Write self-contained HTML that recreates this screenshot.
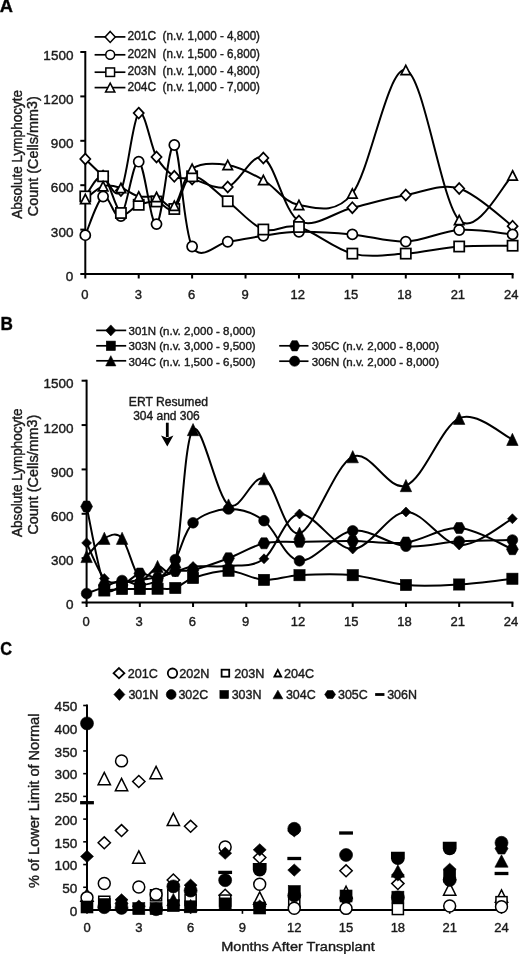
<!DOCTYPE html><html><head><meta charset="utf-8"><title>Lymphocyte counts</title><style>
html,body{margin:0;padding:0;background:#fff;}body{width:520px;height:954px;overflow:hidden;}
svg{display:block;font-family:"Liberation Sans", sans-serif;will-change:transform;}
text{stroke:#1a1a1a;stroke-width:0.4px;stroke-linejoin:round;}
</style></head><body>
<svg width="520" height="954" viewBox="0 0 520 954">
<rect width="520" height="954" fill="#fff"/>
<g fill="#000" font-weight="bold">
<text x="-0.3" y="12.4" font-size="17.8" textLength="13.2" lengthAdjust="spacingAndGlyphs" font-weight="bold" >A</text>
<text x="0.4" y="329.6" font-size="17.8" textLength="12.4" lengthAdjust="spacingAndGlyphs" font-weight="bold" >B</text>
<text x="0.2" y="654.6" font-size="17.8" textLength="11.8" lengthAdjust="spacingAndGlyphs" font-weight="bold" >C</text>
</g>
<g stroke="#000" stroke-width="2" fill="none" stroke-linecap="butt">
<path d="M85.3 51 V275"/>
<path d="M84.3 274 H513.6"/>
<path d="M80.3 274 H85.3"/>
<path d="M80.3 229.6 H85.3"/>
<path d="M80.3 185.2 H85.3"/>
<path d="M80.3 140.8 H85.3"/>
<path d="M80.3 96.4 H85.3"/>
<path d="M80.3 52 H85.3"/>
<path d="M85.3 274 V278.5"/>
<path d="M138.71 274 V278.5"/>
<path d="M192.12 274 V278.5"/>
<path d="M245.54 274 V278.5"/>
<path d="M298.95 274 V278.5"/>
<path d="M352.36 274 V278.5"/>
<path d="M405.78 274 V278.5"/>
<path d="M459.19 274 V278.5"/>
<path d="M512.6 274 V278.5"/>
</g>
<g fill="#1a1a1a" font-size="13.5">
<text x="73.4" y="280.8" font-size="13" text-anchor="end" textLength="7.51" lengthAdjust="spacingAndGlyphs" >0</text>
<text x="73.4" y="236.58" font-size="13" text-anchor="end" textLength="22.52" lengthAdjust="spacingAndGlyphs" >300</text>
<text x="73.4" y="192.36" font-size="13" text-anchor="end" textLength="22.52" lengthAdjust="spacingAndGlyphs" >600</text>
<text x="73.4" y="148.14" font-size="13" text-anchor="end" textLength="22.52" lengthAdjust="spacingAndGlyphs" >900</text>
<text x="73.4" y="103.92" font-size="13" text-anchor="end" textLength="30.02" lengthAdjust="spacingAndGlyphs" >1200</text>
<text x="73.4" y="59.7" font-size="13" text-anchor="end" textLength="30.02" lengthAdjust="spacingAndGlyphs" >1500</text>
<text x="84.9" y="299.2" font-size="13" text-anchor="middle" >0</text>
<text x="138.31" y="299.2" font-size="13" text-anchor="middle" >3</text>
<text x="191.72" y="299.2" font-size="13" text-anchor="middle" >6</text>
<text x="245.14" y="299.2" font-size="13" text-anchor="middle" >9</text>
<text x="297.65" y="299.2" font-size="13" text-anchor="middle" >12</text>
<text x="351.06" y="299.2" font-size="13" text-anchor="middle" >15</text>
<text x="404.48" y="299.2" font-size="13" text-anchor="middle" >18</text>
<text x="457.89" y="299.2" font-size="13" text-anchor="middle" >21</text>
<text x="511.3" y="299.2" font-size="13" text-anchor="middle" >24</text>
</g>
<g fill="#1a1a1a">
<text x="21.9" y="218.8" font-size="14" textLength="128.8" lengthAdjust="spacingAndGlyphs" transform="rotate(-90 21.9 218.8)" >Absolute Lymphocyte</text>
<text x="38.3" y="216.2" font-size="14" textLength="120" lengthAdjust="spacingAndGlyphs" transform="rotate(-90 38.3 216.2)" >Count (Cells/mm<tspan dy="-1.3">3</tspan><tspan dy="1.3">)</tspan></text>
</g>
<g fill="none" stroke="#000" stroke-width="2">
<path d="M85.3 159 C88.27 161.83 97.17 170.75 103.1 176 C109.04 181.25 114.97 200.98 120.91 190.5 C126.84 180.02 132.78 118.68 138.71 113.1 C144.65 107.52 150.58 146.47 156.52 157 C162.45 167.53 168.39 172.63 174.32 176.3 C180.26 179.97 183.22 177.22 192.12 179 C201.03 180.78 215.86 190.5 227.73 187 C239.6 183.5 251.47 152.33 263.34 158 C275.21 163.67 284.11 212.72 298.95 221 C313.79 229.28 334.56 212.03 352.36 207.7 C370.17 203.37 387.97 198.2 405.78 195 C423.58 191.8 441.38 183.3 459.19 188.5 C476.99 193.7 503.7 219.92 512.6 226.2"/>
<path d="M85.3 235.2 C88.27 228.75 97.17 199.7 103.1 196.5 C109.04 193.3 114.97 221.8 120.91 216 C126.84 210.2 132.78 160.35 138.71 161.7 C144.65 163.05 150.58 226.88 156.52 224.1 C162.45 221.32 168.39 141.27 174.32 145 C180.26 148.73 183.22 230.38 192.12 246.5 C201.03 262.62 215.86 243.53 227.73 241.75 C239.6 239.97 251.47 237.46 263.34 235.8 C275.21 234.14 284.11 232.03 298.95 231.8 C313.79 231.57 334.56 232.77 352.36 234.4 C370.17 236.03 387.97 242.33 405.78 241.6 C423.58 240.87 441.38 231.2 459.19 230 C476.99 228.8 503.7 233.67 512.6 234.4"/>
<path d="M85.3 196.4 C88.27 193.05 97.17 173.53 103.1 176.3 C109.04 179.07 114.97 208.25 120.91 213 C126.84 217.75 132.78 206.72 138.71 204.8 C144.65 202.88 150.58 200.8 156.52 201.5 C162.45 202.2 168.39 213.2 174.32 209 C180.26 204.8 183.22 177.59 192.12 176.3 C201.03 175.01 215.86 192.38 227.73 201.25 C239.6 210.12 251.47 225.21 263.34 229.5 C275.21 233.79 284.11 222.98 298.95 227 C313.79 231.02 334.56 249.17 352.36 253.6 C370.17 258.03 387.97 254.78 405.78 253.6 C423.58 252.42 441.38 247.82 459.19 246.5 C476.99 245.18 503.7 245.83 512.6 245.7"/>
<path d="M85.3 199 C88.27 196.87 97.17 188.05 103.1 186.2 C109.04 184.35 114.97 186.2 120.91 187.9 C126.84 189.6 132.78 194.9 138.71 196.4 C144.65 197.9 150.58 195.35 156.52 196.9 C162.45 198.45 168.39 210.38 174.32 205.7 C180.26 201.02 183.22 175.58 192.12 168.8 C201.03 162.02 215.86 163.13 227.73 165 C239.6 166.87 251.47 173.33 263.34 180 C275.21 186.67 284.11 202.75 298.95 205 C313.79 207.25 334.56 216 352.36 193.5 C370.17 171 387.97 65.58 405.78 70 C423.58 74.42 441.38 202.43 459.19 220 C476.99 237.57 503.7 182.83 512.6 175.4"/>
</g>
<polygon points="85.3,153.55 90.35,159 85.3,164.45 80.25,159" fill="#fff" stroke="#000" stroke-width="1.7"/>
<polygon points="103.1,170.55 108.15,176 103.1,181.45 98.05,176" fill="#fff" stroke="#000" stroke-width="1.7"/>
<polygon points="120.91,185.05 125.96,190.5 120.91,195.95 115.86,190.5" fill="#fff" stroke="#000" stroke-width="1.7"/>
<polygon points="138.71,107.65 143.76,113.1 138.71,118.55 133.66,113.1" fill="#fff" stroke="#000" stroke-width="1.7"/>
<polygon points="156.52,151.55 161.57,157 156.52,162.45 151.47,157" fill="#fff" stroke="#000" stroke-width="1.7"/>
<polygon points="174.32,170.85 179.37,176.3 174.32,181.75 169.27,176.3" fill="#fff" stroke="#000" stroke-width="1.7"/>
<polygon points="192.12,173.55 197.18,179 192.12,184.45 187.07,179" fill="#fff" stroke="#000" stroke-width="1.7"/>
<polygon points="227.73,181.55 232.78,187 227.73,192.45 222.68,187" fill="#fff" stroke="#000" stroke-width="1.7"/>
<polygon points="263.34,152.55 268.39,158 263.34,163.45 258.29,158" fill="#fff" stroke="#000" stroke-width="1.7"/>
<polygon points="298.95,215.55 304,221 298.95,226.45 293.9,221" fill="#fff" stroke="#000" stroke-width="1.7"/>
<polygon points="352.36,202.25 357.41,207.7 352.36,213.15 347.31,207.7" fill="#fff" stroke="#000" stroke-width="1.7"/>
<polygon points="405.78,189.55 410.83,195 405.78,200.45 400.73,195" fill="#fff" stroke="#000" stroke-width="1.7"/>
<polygon points="459.19,183.05 464.24,188.5 459.19,193.95 454.14,188.5" fill="#fff" stroke="#000" stroke-width="1.7"/>
<polygon points="512.6,220.75 517.65,226.2 512.6,231.65 507.55,226.2" fill="#fff" stroke="#000" stroke-width="1.7"/>
<ellipse cx="85.3" cy="235.2" rx="5.05" ry="5.05" fill="#fff" stroke="#000" stroke-width="1.7"/>
<ellipse cx="103.1" cy="196.5" rx="5.05" ry="5.05" fill="#fff" stroke="#000" stroke-width="1.7"/>
<ellipse cx="120.91" cy="216" rx="5.05" ry="5.05" fill="#fff" stroke="#000" stroke-width="1.7"/>
<ellipse cx="138.71" cy="161.7" rx="5.05" ry="5.05" fill="#fff" stroke="#000" stroke-width="1.7"/>
<ellipse cx="156.52" cy="224.1" rx="5.05" ry="5.05" fill="#fff" stroke="#000" stroke-width="1.7"/>
<ellipse cx="174.32" cy="145" rx="5.05" ry="5.05" fill="#fff" stroke="#000" stroke-width="1.7"/>
<ellipse cx="192.12" cy="246.5" rx="5.05" ry="5.05" fill="#fff" stroke="#000" stroke-width="1.7"/>
<ellipse cx="227.73" cy="241.75" rx="5.05" ry="5.05" fill="#fff" stroke="#000" stroke-width="1.7"/>
<ellipse cx="263.34" cy="235.8" rx="5.05" ry="5.05" fill="#fff" stroke="#000" stroke-width="1.7"/>
<ellipse cx="298.95" cy="231.8" rx="5.05" ry="5.05" fill="#fff" stroke="#000" stroke-width="1.7"/>
<ellipse cx="352.36" cy="234.4" rx="5.05" ry="5.05" fill="#fff" stroke="#000" stroke-width="1.7"/>
<ellipse cx="405.78" cy="241.6" rx="5.05" ry="5.05" fill="#fff" stroke="#000" stroke-width="1.7"/>
<ellipse cx="459.19" cy="230" rx="5.05" ry="5.05" fill="#fff" stroke="#000" stroke-width="1.7"/>
<ellipse cx="512.6" cy="234.4" rx="5.05" ry="5.05" fill="#fff" stroke="#000" stroke-width="1.7"/>
<rect x="80.2" y="191.3" width="10.2" height="10.2" fill="#fff" stroke="#000" stroke-width="1.7"/>
<rect x="98" y="171.2" width="10.2" height="10.2" fill="#fff" stroke="#000" stroke-width="1.7"/>
<rect x="115.81" y="207.9" width="10.2" height="10.2" fill="#fff" stroke="#000" stroke-width="1.7"/>
<rect x="133.61" y="199.7" width="10.2" height="10.2" fill="#fff" stroke="#000" stroke-width="1.7"/>
<rect x="151.42" y="196.4" width="10.2" height="10.2" fill="#fff" stroke="#000" stroke-width="1.7"/>
<rect x="169.22" y="203.9" width="10.2" height="10.2" fill="#fff" stroke="#000" stroke-width="1.7"/>
<rect x="187.03" y="171.2" width="10.2" height="10.2" fill="#fff" stroke="#000" stroke-width="1.7"/>
<rect x="222.63" y="196.15" width="10.2" height="10.2" fill="#fff" stroke="#000" stroke-width="1.7"/>
<rect x="258.24" y="224.4" width="10.2" height="10.2" fill="#fff" stroke="#000" stroke-width="1.7"/>
<rect x="293.85" y="221.9" width="10.2" height="10.2" fill="#fff" stroke="#000" stroke-width="1.7"/>
<rect x="347.26" y="248.5" width="10.2" height="10.2" fill="#fff" stroke="#000" stroke-width="1.7"/>
<rect x="400.68" y="248.5" width="10.2" height="10.2" fill="#fff" stroke="#000" stroke-width="1.7"/>
<rect x="454.09" y="241.4" width="10.2" height="10.2" fill="#fff" stroke="#000" stroke-width="1.7"/>
<rect x="507.5" y="240.6" width="10.2" height="10.2" fill="#fff" stroke="#000" stroke-width="1.7"/>
<polygon points="85.3,194.35 90.05,203.65 80.55,203.65" fill="#fff" stroke="#000" stroke-width="1.7" stroke-linejoin="miter"/>
<polygon points="103.1,181.55 107.85,190.85 98.35,190.85" fill="#fff" stroke="#000" stroke-width="1.7" stroke-linejoin="miter"/>
<polygon points="120.91,183.25 125.66,192.55 116.16,192.55" fill="#fff" stroke="#000" stroke-width="1.7" stroke-linejoin="miter"/>
<polygon points="138.71,191.75 143.46,201.05 133.96,201.05" fill="#fff" stroke="#000" stroke-width="1.7" stroke-linejoin="miter"/>
<polygon points="156.52,192.25 161.27,201.55 151.77,201.55" fill="#fff" stroke="#000" stroke-width="1.7" stroke-linejoin="miter"/>
<polygon points="174.32,201.05 179.07,210.35 169.57,210.35" fill="#fff" stroke="#000" stroke-width="1.7" stroke-linejoin="miter"/>
<polygon points="192.12,164.15 196.88,173.45 187.38,173.45" fill="#fff" stroke="#000" stroke-width="1.7" stroke-linejoin="miter"/>
<polygon points="227.73,160.35 232.48,169.65 222.98,169.65" fill="#fff" stroke="#000" stroke-width="1.7" stroke-linejoin="miter"/>
<polygon points="263.34,175.35 268.09,184.65 258.59,184.65" fill="#fff" stroke="#000" stroke-width="1.7" stroke-linejoin="miter"/>
<polygon points="298.95,200.35 303.7,209.65 294.2,209.65" fill="#fff" stroke="#000" stroke-width="1.7" stroke-linejoin="miter"/>
<polygon points="352.36,188.85 357.11,198.15 347.61,198.15" fill="#fff" stroke="#000" stroke-width="1.7" stroke-linejoin="miter"/>
<polygon points="405.78,65.35 410.53,74.65 401.03,74.65" fill="#fff" stroke="#000" stroke-width="1.7" stroke-linejoin="miter"/>
<polygon points="459.19,215.35 463.94,224.65 454.44,224.65" fill="#fff" stroke="#000" stroke-width="1.7" stroke-linejoin="miter"/>
<polygon points="512.6,170.75 517.35,180.05 507.85,180.05" fill="#fff" stroke="#000" stroke-width="1.7" stroke-linejoin="miter"/>
<path d="M94.6 36.9 H125.4" stroke="#000" stroke-width="1.7"/>
<polygon points="110.2,31.4 115.3,36.9 110.2,42.4 105.1,36.9" fill="#fff" stroke="#000" stroke-width="1.5"/>
<g fill="#1a1a1a">
<text x="127.5" y="40.4" font-size="12" textLength="28.6" lengthAdjust="spacingAndGlyphs" >201C</text>
<text x="162.6" y="40.4" font-size="12" textLength="97.4" lengthAdjust="spacingAndGlyphs" >(n.v. 1,000 - 4,800)</text>
</g>
<path d="M94.6 54.8 H125.4" stroke="#000" stroke-width="1.7"/>
<ellipse cx="110.2" cy="54.8" rx="4.45" ry="4.55" fill="#fff" stroke="#000" stroke-width="1.5"/>
<g fill="#1a1a1a">
<text x="127.5" y="58" font-size="12" textLength="28.6" lengthAdjust="spacingAndGlyphs" >202N</text>
<text x="162.6" y="58" font-size="12" textLength="97.4" lengthAdjust="spacingAndGlyphs" >(n.v. 1,500 - 6,800)</text>
</g>
<path d="M94.6 72.2 H125.4" stroke="#000" stroke-width="1.7"/>
<rect x="105.85" y="67.95" width="8.7" height="8.5" fill="#fff" stroke="#000" stroke-width="1.5"/>
<g fill="#1a1a1a">
<text x="127.5" y="75" font-size="12" textLength="28.6" lengthAdjust="spacingAndGlyphs" >203N</text>
<text x="162.6" y="75" font-size="12" textLength="97.4" lengthAdjust="spacingAndGlyphs" >(n.v. 1,000 - 4,800)</text>
</g>
<path d="M94.6 87.6 H125.4" stroke="#000" stroke-width="1.7"/>
<polygon points="110.2,83.15 114.85,92.05 105.55,92.05" fill="#fff" stroke="#000" stroke-width="1.5" stroke-linejoin="miter"/>
<g fill="#1a1a1a">
<text x="127.5" y="91.2" font-size="12" textLength="28.6" lengthAdjust="spacingAndGlyphs" >204C</text>
<text x="162.6" y="91.2" font-size="12" textLength="97.4" lengthAdjust="spacingAndGlyphs" >(n.v. 1,000 - 7,000)</text>
</g>
<g stroke="#000" stroke-width="2" fill="none" stroke-linecap="butt">
<path d="M86.6 379.7 V603.5"/>
<path d="M85.6 602.5 H513.4"/>
<path d="M81.6 602.5 H86.6"/>
<path d="M81.6 558.14 H86.6"/>
<path d="M81.6 513.78 H86.6"/>
<path d="M81.6 469.42 H86.6"/>
<path d="M81.6 425.06 H86.6"/>
<path d="M81.6 380.7 H86.6"/>
<path d="M86.6 602.5 V607"/>
<path d="M139.82 602.5 V607"/>
<path d="M193.05 602.5 V607"/>
<path d="M246.27 602.5 V607"/>
<path d="M299.5 602.5 V607"/>
<path d="M352.72 602.5 V607"/>
<path d="M405.95 602.5 V607"/>
<path d="M459.17 602.5 V607"/>
<path d="M512.4 602.5 V607"/>
</g>
<g fill="#1a1a1a">
<text x="73.6" y="609.3" font-size="13" text-anchor="end" textLength="7.51" lengthAdjust="spacingAndGlyphs" >0</text>
<text x="73.6" y="565.12" font-size="13" text-anchor="end" textLength="22.52" lengthAdjust="spacingAndGlyphs" >300</text>
<text x="73.6" y="520.94" font-size="13" text-anchor="end" textLength="22.52" lengthAdjust="spacingAndGlyphs" >600</text>
<text x="73.6" y="476.76" font-size="13" text-anchor="end" textLength="22.52" lengthAdjust="spacingAndGlyphs" >900</text>
<text x="73.6" y="432.58" font-size="13" text-anchor="end" textLength="30.02" lengthAdjust="spacingAndGlyphs" >1200</text>
<text x="73.6" y="388.4" font-size="13" text-anchor="end" textLength="30.02" lengthAdjust="spacingAndGlyphs" >1500</text>
<text x="86" y="625.9" font-size="13" text-anchor="middle" >0</text>
<text x="139.22" y="625.9" font-size="13" text-anchor="middle" >3</text>
<text x="192.45" y="625.9" font-size="13" text-anchor="middle" >6</text>
<text x="245.67" y="625.9" font-size="13" text-anchor="middle" >9</text>
<text x="298.1" y="625.9" font-size="13" text-anchor="middle" >12</text>
<text x="351.32" y="625.9" font-size="13" text-anchor="middle" >15</text>
<text x="404.55" y="625.9" font-size="13" text-anchor="middle" >18</text>
<text x="457.77" y="625.9" font-size="13" text-anchor="middle" >21</text>
<text x="511" y="625.9" font-size="13" text-anchor="middle" >24</text>
<text x="21.8" y="536.9" font-size="14" textLength="128.4" lengthAdjust="spacingAndGlyphs" transform="rotate(-90 21.8 536.9)" >Absolute Lymphocyte</text>
<text x="38.3" y="534.6" font-size="14" textLength="120" lengthAdjust="spacingAndGlyphs" transform="rotate(-90 38.3 534.6)" >Count (Cells/mm<tspan dy="-1.3">3</tspan><tspan dy="1.3">)</tspan></text>
</g>
<g fill="none" stroke="#000" stroke-width="2">
<path d="M86.6 542.9 C89.56 548.83 98.43 571.98 104.34 578.5 C110.26 585.02 116.17 581.75 122.08 582 C128 582.25 133.91 580.83 139.82 580 C145.74 579.17 151.65 578.33 157.57 577 C163.48 575.67 169.39 573.75 175.31 572 C181.22 570.25 184.18 567.5 193.05 566.5 C201.92 565.5 216.71 567.28 228.53 566 C240.36 564.72 252.19 567.47 264.02 558.8 C275.84 550.13 284.72 515.63 299.5 514 C314.28 512.37 334.98 549.33 352.72 549 C370.47 548.67 388.21 512.67 405.95 512 C423.69 511.33 441.43 543.88 459.17 545 C476.92 546.12 503.53 523.12 512.4 518.75"/>
<path d="M104.34 590.5 C107.3 590.25 116.17 589.25 122.08 589 C128 588.75 133.91 589.05 139.82 589 C145.74 588.95 151.65 588.87 157.57 588.7 C163.48 588.53 169.39 589.78 175.31 588 C181.22 586.22 184.18 580.88 193.05 578 C201.92 575.12 216.71 570.43 228.53 570.75 C240.36 571.07 252.19 579.16 264.02 579.9 C275.84 580.64 284.72 575.98 299.5 575.2 C314.28 574.42 334.98 573.57 352.72 575.2 C370.47 576.83 388.21 583.45 405.95 585 C423.69 586.55 441.43 585.54 459.17 584.5 C476.92 583.46 503.53 579.71 512.4 578.75"/>
<path d="M86.6 556.5 C89.56 553.47 98.43 541.33 104.34 538.3 C110.26 535.27 116.17 531.68 122.08 538.3 C128 544.92 133.91 573.3 139.82 578 C145.74 582.7 151.65 569.17 157.57 566.5 C163.48 563.83 169.39 584.82 175.31 562 C181.22 539.18 184.18 439.1 193.05 429.6 C201.92 420.1 216.71 496.82 228.53 505 C240.36 513.18 252.19 473.98 264.02 478.7 C275.84 483.42 284.72 536.97 299.5 533.3 C314.28 529.63 334.98 464.65 352.72 456.7 C370.47 448.75 388.21 492 405.95 485.6 C423.69 479.2 441.43 426 459.17 418.3 C476.92 410.6 503.53 435.88 512.4 439.4"/>
<path d="M86.6 506.5 C89.56 519.58 98.43 571.92 104.34 585 C110.26 598.08 116.17 586.92 122.08 585 C128 583.08 133.91 574.67 139.82 573.5 C145.74 572.33 151.65 578.42 157.57 578 C163.48 577.58 169.39 572.33 175.31 571 C181.22 569.67 184.18 572.12 193.05 570 C201.92 567.88 216.71 562.7 228.53 558.25 C240.36 553.8 252.19 546.02 264.02 543.3 C275.84 540.57 284.72 542.28 299.5 541.9 C314.28 541.52 334.98 540.9 352.72 541 C370.47 541.1 388.21 544.67 405.95 542.5 C423.69 540.33 441.43 526.88 459.17 528 C476.92 529.12 503.53 545.71 512.4 549.25"/>
<path d="M86.6 593.5 C89.56 592.42 98.43 589.17 104.34 587 C110.26 584.83 116.17 580.83 122.08 580.5 C128 580.17 133.91 585.08 139.82 585 C145.74 584.92 151.65 584.23 157.57 580 C163.48 575.77 169.39 569.13 175.31 559.6 C181.22 550.07 184.18 531.23 193.05 522.8 C201.92 514.37 216.71 509.35 228.53 509 C240.36 508.65 252.19 512.07 264.02 520.7 C275.84 529.33 284.72 559.12 299.5 560.8 C314.28 562.48 334.98 533.22 352.72 530.8 C370.47 528.38 388.21 544.51 405.95 546.25 C423.69 547.99 441.43 542.29 459.17 541.25 C476.92 540.21 503.53 540.21 512.4 540"/>
</g>
<polygon points="86.6,537.9 91.5,542.9 86.6,547.9 81.7,542.9" fill="#000" stroke="#000" stroke-width="0.6"/>
<polygon points="104.34,573.5 109.24,578.5 104.34,583.5 99.44,578.5" fill="#000" stroke="#000" stroke-width="0.6"/>
<polygon points="122.08,577 126.98,582 122.08,587 117.18,582" fill="#000" stroke="#000" stroke-width="0.6"/>
<polygon points="139.82,575 144.72,580 139.82,585 134.92,580" fill="#000" stroke="#000" stroke-width="0.6"/>
<polygon points="157.57,572 162.47,577 157.57,582 152.67,577" fill="#000" stroke="#000" stroke-width="0.6"/>
<polygon points="175.31,567 180.21,572 175.31,577 170.41,572" fill="#000" stroke="#000" stroke-width="0.6"/>
<polygon points="193.05,561.5 197.95,566.5 193.05,571.5 188.15,566.5" fill="#000" stroke="#000" stroke-width="0.6"/>
<polygon points="228.53,561 233.43,566 228.53,571 223.63,566" fill="#000" stroke="#000" stroke-width="0.6"/>
<polygon points="264.02,553.8 268.92,558.8 264.02,563.8 259.12,558.8" fill="#000" stroke="#000" stroke-width="0.6"/>
<polygon points="299.5,509 304.4,514 299.5,519 294.6,514" fill="#000" stroke="#000" stroke-width="0.6"/>
<polygon points="352.72,544 357.62,549 352.72,554 347.82,549" fill="#000" stroke="#000" stroke-width="0.6"/>
<polygon points="405.95,507 410.85,512 405.95,517 401.05,512" fill="#000" stroke="#000" stroke-width="0.6"/>
<polygon points="459.17,540 464.07,545 459.17,550 454.27,545" fill="#000" stroke="#000" stroke-width="0.6"/>
<polygon points="512.4,513.75 517.3,518.75 512.4,523.75 507.5,518.75" fill="#000" stroke="#000" stroke-width="0.6"/>
<rect x="98.74" y="584.9" width="11.2" height="11.2" fill="#000" stroke="#000" stroke-width="0.6"/>
<rect x="116.48" y="583.4" width="11.2" height="11.2" fill="#000" stroke="#000" stroke-width="0.6"/>
<rect x="134.22" y="583.4" width="11.2" height="11.2" fill="#000" stroke="#000" stroke-width="0.6"/>
<rect x="151.97" y="583.1" width="11.2" height="11.2" fill="#000" stroke="#000" stroke-width="0.6"/>
<rect x="169.71" y="582.4" width="11.2" height="11.2" fill="#000" stroke="#000" stroke-width="0.6"/>
<rect x="187.45" y="572.4" width="11.2" height="11.2" fill="#000" stroke="#000" stroke-width="0.6"/>
<rect x="222.93" y="565.15" width="11.2" height="11.2" fill="#000" stroke="#000" stroke-width="0.6"/>
<rect x="258.42" y="574.3" width="11.2" height="11.2" fill="#000" stroke="#000" stroke-width="0.6"/>
<rect x="293.9" y="569.6" width="11.2" height="11.2" fill="#000" stroke="#000" stroke-width="0.6"/>
<rect x="347.12" y="569.6" width="11.2" height="11.2" fill="#000" stroke="#000" stroke-width="0.6"/>
<rect x="400.35" y="579.4" width="11.2" height="11.2" fill="#000" stroke="#000" stroke-width="0.6"/>
<rect x="453.57" y="578.9" width="11.2" height="11.2" fill="#000" stroke="#000" stroke-width="0.6"/>
<rect x="506.8" y="573.15" width="11.2" height="11.2" fill="#000" stroke="#000" stroke-width="0.6"/>
<polygon points="86.6,550.4 92.3,562.6 80.9,562.6" fill="#000" stroke="#000" stroke-width="0.6" stroke-linejoin="miter"/>
<polygon points="104.34,532.2 110.04,544.4 98.64,544.4" fill="#000" stroke="#000" stroke-width="0.6" stroke-linejoin="miter"/>
<polygon points="122.08,532.2 127.78,544.4 116.38,544.4" fill="#000" stroke="#000" stroke-width="0.6" stroke-linejoin="miter"/>
<polygon points="139.82,571.9 145.52,584.1 134.12,584.1" fill="#000" stroke="#000" stroke-width="0.6" stroke-linejoin="miter"/>
<polygon points="157.57,560.4 163.27,572.6 151.87,572.6" fill="#000" stroke="#000" stroke-width="0.6" stroke-linejoin="miter"/>
<polygon points="175.31,555.9 181.01,568.1 169.61,568.1" fill="#000" stroke="#000" stroke-width="0.6" stroke-linejoin="miter"/>
<polygon points="193.05,423.5 198.75,435.7 187.35,435.7" fill="#000" stroke="#000" stroke-width="0.6" stroke-linejoin="miter"/>
<polygon points="228.53,498.9 234.23,511.1 222.83,511.1" fill="#000" stroke="#000" stroke-width="0.6" stroke-linejoin="miter"/>
<polygon points="264.02,472.6 269.72,484.8 258.32,484.8" fill="#000" stroke="#000" stroke-width="0.6" stroke-linejoin="miter"/>
<polygon points="299.5,527.2 305.2,539.4 293.8,539.4" fill="#000" stroke="#000" stroke-width="0.6" stroke-linejoin="miter"/>
<polygon points="352.72,450.6 358.42,462.8 347.02,462.8" fill="#000" stroke="#000" stroke-width="0.6" stroke-linejoin="miter"/>
<polygon points="405.95,479.5 411.65,491.7 400.25,491.7" fill="#000" stroke="#000" stroke-width="0.6" stroke-linejoin="miter"/>
<polygon points="459.17,412.2 464.87,424.4 453.47,424.4" fill="#000" stroke="#000" stroke-width="0.6" stroke-linejoin="miter"/>
<polygon points="512.4,433.3 518.1,445.5 506.7,445.5" fill="#000" stroke="#000" stroke-width="0.6" stroke-linejoin="miter"/>
<polygon points="80.7,506.5 83.65,501.05 89.55,501.05 92.5,506.5 89.55,511.95 83.65,511.95" fill="#000" stroke="#000" stroke-width="0.6"/>
<polygon points="98.44,585 101.39,579.55 107.29,579.55 110.24,585 107.29,590.45 101.39,590.45" fill="#000" stroke="#000" stroke-width="0.6"/>
<polygon points="116.18,585 119.13,579.55 125.03,579.55 127.98,585 125.03,590.45 119.13,590.45" fill="#000" stroke="#000" stroke-width="0.6"/>
<polygon points="133.92,573.5 136.88,568.05 142.77,568.05 145.72,573.5 142.77,578.95 136.88,578.95" fill="#000" stroke="#000" stroke-width="0.6"/>
<polygon points="151.67,578 154.62,572.55 160.52,572.55 163.47,578 160.52,583.45 154.62,583.45" fill="#000" stroke="#000" stroke-width="0.6"/>
<polygon points="169.41,571 172.36,565.55 178.26,565.55 181.21,571 178.26,576.45 172.36,576.45" fill="#000" stroke="#000" stroke-width="0.6"/>
<polygon points="187.15,570 190.1,564.55 196,564.55 198.95,570 196,575.45 190.1,575.45" fill="#000" stroke="#000" stroke-width="0.6"/>
<polygon points="222.63,558.25 225.58,552.8 231.48,552.8 234.43,558.25 231.48,563.7 225.58,563.7" fill="#000" stroke="#000" stroke-width="0.6"/>
<polygon points="258.12,543.3 261.07,537.85 266.97,537.85 269.92,543.3 266.97,548.75 261.07,548.75" fill="#000" stroke="#000" stroke-width="0.6"/>
<polygon points="293.6,541.9 296.55,536.45 302.45,536.45 305.4,541.9 302.45,547.35 296.55,547.35" fill="#000" stroke="#000" stroke-width="0.6"/>
<polygon points="346.82,541 349.77,535.55 355.67,535.55 358.62,541 355.67,546.45 349.77,546.45" fill="#000" stroke="#000" stroke-width="0.6"/>
<polygon points="400.05,542.5 403,537.05 408.9,537.05 411.85,542.5 408.9,547.95 403,547.95" fill="#000" stroke="#000" stroke-width="0.6"/>
<polygon points="453.27,528 456.22,522.55 462.12,522.55 465.07,528 462.12,533.45 456.22,533.45" fill="#000" stroke="#000" stroke-width="0.6"/>
<polygon points="506.5,549.25 509.45,543.8 515.35,543.8 518.3,549.25 515.35,554.7 509.45,554.7" fill="#000" stroke="#000" stroke-width="0.6"/>
<ellipse cx="86.6" cy="593.5" rx="5.35" ry="5.35" fill="#000" stroke="#000" stroke-width="0.6"/>
<ellipse cx="104.34" cy="587" rx="5.35" ry="5.35" fill="#000" stroke="#000" stroke-width="0.6"/>
<ellipse cx="122.08" cy="580.5" rx="5.35" ry="5.35" fill="#000" stroke="#000" stroke-width="0.6"/>
<ellipse cx="139.82" cy="585" rx="5.35" ry="5.35" fill="#000" stroke="#000" stroke-width="0.6"/>
<ellipse cx="157.57" cy="580" rx="5.35" ry="5.35" fill="#000" stroke="#000" stroke-width="0.6"/>
<ellipse cx="175.31" cy="559.6" rx="5.35" ry="5.35" fill="#000" stroke="#000" stroke-width="0.6"/>
<ellipse cx="193.05" cy="522.8" rx="5.35" ry="5.35" fill="#000" stroke="#000" stroke-width="0.6"/>
<ellipse cx="228.53" cy="509" rx="5.35" ry="5.35" fill="#000" stroke="#000" stroke-width="0.6"/>
<ellipse cx="264.02" cy="520.7" rx="5.35" ry="5.35" fill="#000" stroke="#000" stroke-width="0.6"/>
<ellipse cx="299.5" cy="560.8" rx="5.35" ry="5.35" fill="#000" stroke="#000" stroke-width="0.6"/>
<ellipse cx="352.72" cy="530.8" rx="5.35" ry="5.35" fill="#000" stroke="#000" stroke-width="0.6"/>
<ellipse cx="405.95" cy="546.25" rx="5.35" ry="5.35" fill="#000" stroke="#000" stroke-width="0.6"/>
<ellipse cx="459.17" cy="541.25" rx="5.35" ry="5.35" fill="#000" stroke="#000" stroke-width="0.6"/>
<ellipse cx="512.4" cy="540" rx="5.35" ry="5.35" fill="#000" stroke="#000" stroke-width="0.6"/>
<path d="M96.2 330.4 H126.2" stroke="#000" stroke-width="1.7"/>
<polygon points="110.8,324.9 115.9,330.4 110.8,335.9 105.7,330.4" fill="#000" stroke="#000" stroke-width="0.6"/>
<g fill="#1a1a1a">
<text x="128.5" y="334.6" font-size="11.7" textLength="127.2" lengthAdjust="spacingAndGlyphs" >301N&#160;(n.v. 2,000 - 8,000)</text>
</g>
<path d="M96.2 345.8 H126.2" stroke="#000" stroke-width="1.7"/>
<rect x="106.3" y="341.1" width="9" height="9.4" fill="#000" stroke="#000" stroke-width="0.6"/>
<g fill="#1a1a1a">
<text x="128.5" y="350.2" font-size="11.7" textLength="127.2" lengthAdjust="spacingAndGlyphs" >303N&#160;(n.v. 3,000 - 9,500)</text>
</g>
<path d="M96.2 360.8 H126.2" stroke="#000" stroke-width="1.7"/>
<polygon points="110.8,355.7 115.9,365.9 105.7,365.9" fill="#000" stroke="#000" stroke-width="0.6" stroke-linejoin="miter"/>
<g fill="#1a1a1a">
<text x="128.5" y="365.6" font-size="11.7" textLength="127.2" lengthAdjust="spacingAndGlyphs" >304C&#160;(n.v. 1,500 - 6,500)</text>
</g>
<path d="M279.2 345.8 H308.5" stroke="#000" stroke-width="1.7"/>
<polygon points="289.4,345.8 292,340.7 297.2,340.7 299.8,345.8 297.2,350.9 292,350.9" fill="#000" stroke="#000" stroke-width="0.6"/>
<g fill="#1a1a1a">
<text x="311.8" y="350.4" font-size="11.7" textLength="127.2" lengthAdjust="spacingAndGlyphs" >305C&#160;(n.v. 2,000 - 8,000)</text>
</g>
<path d="M279.2 361.2 H308.5" stroke="#000" stroke-width="1.7"/>
<ellipse cx="294.6" cy="361.2" rx="5.1" ry="5.1" fill="#000" stroke="#000" stroke-width="0.6"/>
<g fill="#1a1a1a">
<text x="311.8" y="365.8" font-size="11.7" textLength="127.2" lengthAdjust="spacingAndGlyphs" >306N&#160;(n.v. 2,000 - 8,000)</text>
</g>
<g fill="#1a1a1a">
<text x="128.8" y="406" font-size="12.2" textLength="79.2" lengthAdjust="spacingAndGlyphs" >ERT Resumed</text>
<text x="133.2" y="420.4" font-size="12.2" textLength="66.6" lengthAdjust="spacingAndGlyphs" >304 and 306</text>
</g>
<path d="M167.3 422.7 V437" stroke="#000" stroke-width="2.8"/>
<polygon points="161,435.4 167.3,438.0 173.4,435.4 167.3,446.4" fill="#000"/>
<g stroke="#000" stroke-width="2" fill="none">
<path d="M87 704.5 V911"/>
<path d="M86 910 H502.5"/>
<path d="M83.2 910 H87" stroke-width="1.6"/>
<path d="M83.2 887.28 H87" stroke-width="1.6"/>
<path d="M83.2 864.56 H87" stroke-width="1.6"/>
<path d="M83.2 841.83 H87" stroke-width="1.6"/>
<path d="M83.2 819.11 H87" stroke-width="1.6"/>
<path d="M83.2 796.39 H87" stroke-width="1.6"/>
<path d="M83.2 773.67 H87" stroke-width="1.6"/>
<path d="M83.2 750.94 H87" stroke-width="1.6"/>
<path d="M83.2 728.22 H87" stroke-width="1.6"/>
<path d="M83.2 705.5 H87" stroke-width="1.6"/>
<path d="M87 910 V913.8" stroke-width="1.6"/>
<path d="M138.81 910 V913.8" stroke-width="1.6"/>
<path d="M190.62 910 V913.8" stroke-width="1.6"/>
<path d="M242.44 910 V913.8" stroke-width="1.6"/>
<path d="M294.25 910 V913.8" stroke-width="1.6"/>
<path d="M346.06 910 V913.8" stroke-width="1.6"/>
<path d="M397.88 910 V913.8" stroke-width="1.6"/>
<path d="M449.69 910 V913.8" stroke-width="1.6"/>
<path d="M501.5 910 V913.8" stroke-width="1.6"/>
</g>
<g fill="#1a1a1a">
<text x="77.3" y="915.8" font-size="13" text-anchor="end" textLength="7.56" lengthAdjust="spacingAndGlyphs" >0</text>
<text x="77.3" y="893.08" font-size="13" text-anchor="end" textLength="15.12" lengthAdjust="spacingAndGlyphs" >50</text>
<text x="77.3" y="870.36" font-size="13" text-anchor="end" textLength="22.68" lengthAdjust="spacingAndGlyphs" >100</text>
<text x="77.3" y="847.63" font-size="13" text-anchor="end" textLength="22.68" lengthAdjust="spacingAndGlyphs" >150</text>
<text x="77.3" y="824.91" font-size="13" text-anchor="end" textLength="22.68" lengthAdjust="spacingAndGlyphs" >200</text>
<text x="77.3" y="802.19" font-size="13" text-anchor="end" textLength="22.68" lengthAdjust="spacingAndGlyphs" >250</text>
<text x="77.3" y="779.47" font-size="13" text-anchor="end" textLength="22.68" lengthAdjust="spacingAndGlyphs" >300</text>
<text x="77.3" y="756.74" font-size="13" text-anchor="end" textLength="22.68" lengthAdjust="spacingAndGlyphs" >350</text>
<text x="77.3" y="734.02" font-size="13" text-anchor="end" textLength="22.68" lengthAdjust="spacingAndGlyphs" >400</text>
<text x="77.3" y="711.3" font-size="13" text-anchor="end" textLength="22.68" lengthAdjust="spacingAndGlyphs" >450</text>
<text x="87" y="931.6" font-size="13" text-anchor="middle" >0</text>
<text x="138.81" y="931.6" font-size="13" text-anchor="middle" >3</text>
<text x="190.62" y="931.6" font-size="13" text-anchor="middle" >6</text>
<text x="242.44" y="931.6" font-size="13" text-anchor="middle" >9</text>
<text x="294.25" y="931.6" font-size="13" text-anchor="middle" >12</text>
<text x="346.06" y="931.6" font-size="13" text-anchor="middle" >15</text>
<text x="397.88" y="931.6" font-size="13" text-anchor="middle" >18</text>
<text x="449.69" y="931.6" font-size="13" text-anchor="middle" >21</text>
<text x="501.5" y="931.6" font-size="13" text-anchor="middle" >24</text>
<text x="221.2" y="951.3" font-size="13.6" textLength="153.6" lengthAdjust="spacingAndGlyphs" >Months After Transplant</text>
<text x="38.6" y="888" font-size="14.5" textLength="174.4" lengthAdjust="spacingAndGlyphs" transform="rotate(-90 38.6 888)" >% of Lower Limit of Normal</text>
</g>
<polygon points="119,668.1 124.4,673.2 119,678.3 113.6,673.2" fill="#fff" stroke="#000" stroke-width="1.8"/>
<g fill="#1a1a1a">
<text x="127.8" y="677.6" font-size="12.2" textLength="30.2" lengthAdjust="spacingAndGlyphs" >201C</text>
</g>
<ellipse cx="172.5" cy="673.2" rx="4.7" ry="4.7" fill="#fff" stroke="#000" stroke-width="1.8"/>
<g fill="#1a1a1a">
<text x="179.3" y="677.6" font-size="12.2" textLength="30.2" lengthAdjust="spacingAndGlyphs" >202N</text>
</g>
<rect x="221.6" y="669.7" width="7.6" height="7" fill="#fff" stroke="#000" stroke-width="1.8"/>
<g fill="#1a1a1a">
<text x="234.3" y="677.6" font-size="12.2" textLength="30.2" lengthAdjust="spacingAndGlyphs" >203N</text>
</g>
<polygon points="277.8,669.9 281.2,676.5 274.4,676.5" fill="#fff" stroke="#000" stroke-width="1.8" stroke-linejoin="miter"/>
<g fill="#1a1a1a">
<text x="283.9" y="677.6" font-size="12.2" textLength="30.2" lengthAdjust="spacingAndGlyphs" >204C</text>
</g>
<polygon points="119.4,688.6 124.9,694.5 119.4,700.4 113.9,694.5" fill="#000" stroke="#000" stroke-width="0.6"/>
<g fill="#1a1a1a">
<text x="128.4" y="699.2" font-size="12.2" textLength="29.8" lengthAdjust="spacingAndGlyphs" >301N</text>
</g>
<ellipse cx="171.2" cy="694.5" rx="4.9" ry="4.9" fill="#000" stroke="#000" stroke-width="0.6"/>
<g fill="#1a1a1a">
<text x="178.4" y="699.2" font-size="12.2" textLength="29.8" lengthAdjust="spacingAndGlyphs" >302C</text>
</g>
<rect x="219.9" y="690.5" width="8.6" height="8" fill="#000" stroke="#000" stroke-width="0.6"/>
<g fill="#1a1a1a">
<text x="231.7" y="699.2" font-size="12.2" textLength="29.8" lengthAdjust="spacingAndGlyphs" >303N</text>
</g>
<polygon points="277.9,690.2 282.8,698.8 273,698.8" fill="#000" stroke="#000" stroke-width="0.6" stroke-linejoin="miter"/>
<g fill="#1a1a1a">
<text x="285.9" y="699.2" font-size="12.2" textLength="29.8" lengthAdjust="spacingAndGlyphs" >304C</text>
</g>
<polygon points="324.7,694.5 327.4,690.6 332.8,690.6 335.5,694.5 332.8,698.4 327.4,698.4" fill="#000" stroke="#000" stroke-width="0.6"/>
<g fill="#1a1a1a">
<text x="338" y="699.2" font-size="12.2" textLength="29.8" lengthAdjust="spacingAndGlyphs" >305C</text>
</g>
<rect x="375.15" y="693.1" width="9.3" height="2.8" fill="#000"/>
<g fill="#1a1a1a">
<text x="387.2" y="699.2" font-size="12.2" textLength="29.8" lengthAdjust="spacingAndGlyphs" >306N</text>
</g>
<polygon points="87,889.05 93.15,901.35 80.85,901.35" fill="#fff" stroke="#000" stroke-width="1.5" stroke-linejoin="miter"/>
<ellipse cx="87" cy="897.6" rx="5.95" ry="5.95" fill="#fff" stroke="#000" stroke-width="1.5"/>
<rect x="81" y="901" width="12" height="12" fill="#000" stroke="#000" stroke-width="0.6"/>
<polygon points="87,850.3 93.5,856.4 87,862.5 80.5,856.4" fill="#000" stroke="#000" stroke-width="0.6"/>
<ellipse cx="87" cy="723.4" rx="6.5" ry="6.5" fill="#000" stroke="#000" stroke-width="0.6"/>
<rect x="80.1" y="801.05" width="13.8" height="3.3" fill="#000"/>
<polygon points="104.27,772.45 110.42,784.75 98.12,784.75" fill="#fff" stroke="#000" stroke-width="1.5" stroke-linejoin="miter"/>
<polygon points="104.27,836.85 110.42,842.8 104.27,848.75 98.12,842.8" fill="#fff" stroke="#000" stroke-width="1.5"/>
<ellipse cx="104.27" cy="883.5" rx="5.95" ry="5.95" fill="#fff" stroke="#000" stroke-width="1.5"/>
<rect x="98.72" y="896.25" width="11.1" height="11.1" fill="#fff" stroke="#000" stroke-width="1.5"/>
<rect x="98.27" y="898.6" width="12" height="12" fill="#000" stroke="#000" stroke-width="0.6"/>
<ellipse cx="104.27" cy="907.2" rx="6.5" ry="6.5" fill="#000" stroke="#000" stroke-width="0.6"/>
<ellipse cx="121.54" cy="760.9" rx="5.95" ry="5.95" fill="#fff" stroke="#000" stroke-width="1.5"/>
<polygon points="121.54,778.45 127.69,790.75 115.39,790.75" fill="#fff" stroke="#000" stroke-width="1.5" stroke-linejoin="miter"/>
<polygon points="121.54,824.65 127.69,830.6 121.54,836.55 115.39,830.6" fill="#fff" stroke="#000" stroke-width="1.5"/>
<polygon points="121.54,893.7 128.04,899.8 121.54,905.9 115.04,899.8" fill="#000" stroke="#000" stroke-width="0.6"/>
<polygon points="115.04,903.4 118.29,897.95 124.79,897.95 128.04,903.4 124.79,908.85 118.29,908.85" fill="#000" stroke="#000" stroke-width="0.6"/>
<ellipse cx="121.54" cy="907.9" rx="6.5" ry="6.5" fill="#000" stroke="#000" stroke-width="0.6"/>
<polygon points="138.81,775.55 144.96,781.5 138.81,787.45 132.66,781.5" fill="#fff" stroke="#000" stroke-width="1.5"/>
<polygon points="138.81,850.85 144.96,863.15 132.66,863.15" fill="#fff" stroke="#000" stroke-width="1.5" stroke-linejoin="miter"/>
<ellipse cx="138.81" cy="887" rx="5.95" ry="5.95" fill="#fff" stroke="#000" stroke-width="1.5"/>
<polygon points="138.81,900.1 145.31,906.2 138.81,912.3 132.31,906.2" fill="#000" stroke="#000" stroke-width="0.6"/>
<rect x="132.81" y="902.6" width="12" height="12" fill="#000" stroke="#000" stroke-width="0.6"/>
<polygon points="156.08,766.35 162.23,778.65 149.93,778.65" fill="#fff" stroke="#000" stroke-width="1.5" stroke-linejoin="miter"/>
<rect x="150.08" y="902.6" width="12" height="12" fill="#000" stroke="#000" stroke-width="0.6"/>
<ellipse cx="156.08" cy="909.2" rx="6.5" ry="6.5" fill="#000" stroke="#000" stroke-width="0.6"/>
<rect x="150.53" y="889.75" width="11.1" height="11.1" fill="#fff" stroke="#000" stroke-width="1.5"/>
<ellipse cx="156.08" cy="894.4" rx="5.95" ry="5.95" fill="#fff" stroke="#000" stroke-width="1.5"/>
<polygon points="173.35,813.25 179.5,825.55 167.2,825.55" fill="#fff" stroke="#000" stroke-width="1.5" stroke-linejoin="miter"/>
<polygon points="173.35,874.05 179.5,880 173.35,885.95 167.2,880" fill="#fff" stroke="#000" stroke-width="1.5"/>
<rect x="167.8" y="889.65" width="11.1" height="11.1" fill="#fff" stroke="#000" stroke-width="1.5"/>
<ellipse cx="173.35" cy="886.4" rx="6.5" ry="6.5" fill="#000" stroke="#000" stroke-width="0.6"/>
<polygon points="173.35,893.4 179.95,905.8 166.75,905.8" fill="#000" stroke="#000" stroke-width="0.6" stroke-linejoin="miter"/>
<rect x="167.35" y="899.6" width="12" height="12" fill="#000" stroke="#000" stroke-width="0.6"/>
<polygon points="190.62,820.35 196.78,826.3 190.62,832.25 184.47,826.3" fill="#fff" stroke="#000" stroke-width="1.5"/>
<rect x="185.07" y="894.45" width="11.1" height="11.1" fill="#fff" stroke="#000" stroke-width="1.5"/>
<polygon points="190.62,879.1 197.12,885.2 190.62,891.3 184.12,885.2" fill="#000" stroke="#000" stroke-width="0.6"/>
<ellipse cx="190.62" cy="890.6" rx="6.5" ry="6.5" fill="#000" stroke="#000" stroke-width="0.6"/>
<polygon points="190.62,899.4 197.22,911.8 184.03,911.8" fill="#000" stroke="#000" stroke-width="0.6" stroke-linejoin="miter"/>
<rect x="184.62" y="900.8" width="12" height="12" fill="#000" stroke="#000" stroke-width="0.6"/>
<ellipse cx="225.17" cy="847" rx="5.95" ry="5.95" fill="#fff" stroke="#000" stroke-width="1.5"/>
<polygon points="225.17,847.1 231.67,853.2 225.17,859.3 218.67,853.2" fill="#000" stroke="#000" stroke-width="0.6"/>
<ellipse cx="225.17" cy="880.2" rx="6.5" ry="6.5" fill="#000" stroke="#000" stroke-width="0.6"/>
<rect x="218.27" y="870.75" width="13.8" height="3.3" fill="#000"/>
<polygon points="225.17,889.25 231.32,895.2 225.17,901.15 219.02,895.2" fill="#fff" stroke="#000" stroke-width="1.5"/>
<rect x="219.62" y="895.05" width="11.1" height="11.1" fill="#fff" stroke="#000" stroke-width="1.5"/>
<rect x="219.17" y="897.9" width="12" height="12" fill="#000" stroke="#000" stroke-width="0.6"/>
<polygon points="259.71,851.55 265.86,857.5 259.71,863.45 253.56,857.5" fill="#fff" stroke="#000" stroke-width="1.5"/>
<polygon points="259.71,843.7 266.21,849.8 259.71,855.9 253.21,849.8" fill="#000" stroke="#000" stroke-width="0.6"/>
<path d="M252.81 863 H266.61 V869.6 A6.9 6.9 0 0 1 252.81 869.6 Z" fill="#000"/>
<ellipse cx="259.71" cy="884.3" rx="5.95" ry="5.95" fill="#fff" stroke="#000" stroke-width="1.5"/>
<polygon points="259.71,891.85 265.86,904.15 253.56,904.15" fill="#fff" stroke="#000" stroke-width="1.5" stroke-linejoin="miter"/>
<polygon points="259.71,899.9 266.21,906 259.71,912.1 253.21,906" fill="#000" stroke="#000" stroke-width="0.6"/>
<rect x="253.71" y="902" width="12" height="12" fill="#000" stroke="#000" stroke-width="0.6"/>
<polygon points="294.25,824.7 300.75,830.8 294.25,836.9 287.75,830.8" fill="#000" stroke="#000" stroke-width="0.6"/>
<ellipse cx="294.25" cy="828.8" rx="6.5" ry="6.5" fill="#000" stroke="#000" stroke-width="0.6"/>
<rect x="287.35" y="856.85" width="13.8" height="3.3" fill="#000"/>
<polygon points="294.25,864 300.75,870.1 294.25,876.2 287.75,870.1" fill="#000" stroke="#000" stroke-width="0.6"/>
<rect x="288.7" y="896.25" width="11.1" height="11.1" fill="#fff" stroke="#000" stroke-width="1.5"/>
<rect x="288.25" y="885.6" width="12" height="12" fill="#000" stroke="#000" stroke-width="0.6"/>
<ellipse cx="294.25" cy="895.5" rx="6.5" ry="6.5" fill="#000" stroke="#000" stroke-width="0.6"/>
<ellipse cx="294.25" cy="908.2" rx="5.95" ry="5.95" fill="#fff" stroke="#000" stroke-width="1.5"/>
<rect x="339.16" y="831.35" width="13.8" height="3.3" fill="#000"/>
<ellipse cx="346.06" cy="855" rx="6.5" ry="6.5" fill="#000" stroke="#000" stroke-width="0.6"/>
<polygon points="346.06,864.85 352.21,870.8 346.06,876.75 339.91,870.8" fill="#fff" stroke="#000" stroke-width="1.5"/>
<polygon points="346.06,886.25 352.21,898.55 339.91,898.55" fill="#fff" stroke="#000" stroke-width="1.5" stroke-linejoin="miter"/>
<rect x="340.06" y="890" width="12" height="12" fill="#000" stroke="#000" stroke-width="0.6"/>
<polygon points="339.56,897.4 342.81,891.95 349.31,891.95 352.56,897.4 349.31,902.85 342.81,902.85" fill="#000" stroke="#000" stroke-width="0.6"/>
<polygon points="346.06,893.9 352.56,900 346.06,906.1 339.56,900" fill="#000" stroke="#000" stroke-width="0.6"/>
<ellipse cx="346.06" cy="908.4" rx="5.95" ry="5.95" fill="#fff" stroke="#000" stroke-width="1.5"/>
<path d="M390.98 851.7 H404.77 V858.3 A6.9 6.9 0 0 1 390.98 858.3 Z" fill="#000"/>
<polygon points="397.88,877.65 404.02,883.6 397.88,889.55 391.73,883.6" fill="#fff" stroke="#000" stroke-width="1.5"/>
<polygon points="397.88,864.8 404.48,877.2 391.27,877.2" fill="#000" stroke="#000" stroke-width="0.6" stroke-linejoin="miter"/>
<polygon points="397.88,868.9 404.38,875 397.88,881.1 391.38,875" fill="#000" stroke="#000" stroke-width="0.6"/>
<rect x="391.88" y="891.2" width="12" height="12" fill="#000" stroke="#000" stroke-width="0.6"/>
<ellipse cx="397.88" cy="897.4" rx="6.5" ry="6.5" fill="#000" stroke="#000" stroke-width="0.6"/>
<rect x="392.32" y="903.45" width="11.1" height="11.1" fill="#fff" stroke="#000" stroke-width="1.5"/>
<path d="M442.79 841.7 H456.59 V848.3 A6.9 6.9 0 0 1 442.79 848.3 Z" fill="#000"/>
<polygon points="449.69,882.85 455.84,895.15 443.54,895.15" fill="#fff" stroke="#000" stroke-width="1.5" stroke-linejoin="miter"/>
<polygon points="449.69,863.2 456.19,869.3 449.69,875.4 443.19,869.3" fill="#000" stroke="#000" stroke-width="0.6"/>
<rect x="443.69" y="870" width="12" height="12" fill="#000" stroke="#000" stroke-width="0.6"/>
<polygon points="443.19,879.8 446.44,874.35 452.94,874.35 456.19,879.8 452.94,885.25 446.44,885.25" fill="#000" stroke="#000" stroke-width="0.6"/>
<ellipse cx="449.69" cy="880" rx="6.5" ry="6.5" fill="#000" stroke="#000" stroke-width="0.6"/>
<ellipse cx="449.69" cy="906" rx="5.95" ry="5.95" fill="#fff" stroke="#000" stroke-width="1.5"/>
<ellipse cx="501.5" cy="842.8" rx="6.5" ry="6.5" fill="#000" stroke="#000" stroke-width="0.6"/>
<polygon points="495,848.6 498.25,843.15 504.75,843.15 508,848.6 504.75,854.05 498.25,854.05" fill="#000" stroke="#000" stroke-width="0.6"/>
<polygon points="501.5,854.8 508.1,867.2 494.9,867.2" fill="#000" stroke="#000" stroke-width="0.6" stroke-linejoin="miter"/>
<rect x="494.6" y="871.85" width="13.8" height="3.3" fill="#000"/>
<polygon points="501.5,889.85 507.65,902.15 495.35,902.15" fill="#fff" stroke="#000" stroke-width="1.5" stroke-linejoin="miter"/>
<rect x="495.95" y="896.65" width="11.1" height="11.1" fill="#fff" stroke="#000" stroke-width="1.5"/>
<ellipse cx="501.5" cy="906.7" rx="5.95" ry="5.95" fill="#fff" stroke="#000" stroke-width="1.5"/>
</svg></body></html>
